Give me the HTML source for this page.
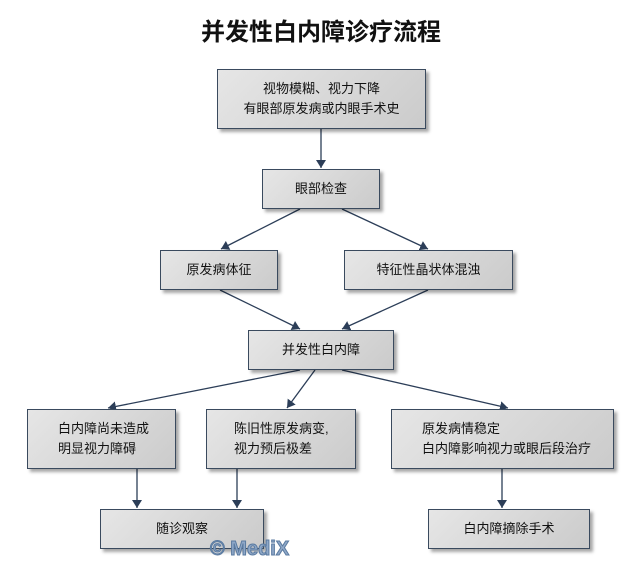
<!DOCTYPE html>
<html><head><meta charset="utf-8"><style>
body{margin:0;width:642px;height:558px;background:#fff;position:relative;overflow:hidden;font-family:"Liberation Sans","Noto Sans CJK SC",sans-serif}
.t{position:absolute;left:0;width:642px;top:12px;text-align:center;font-size:24px;font-weight:bold;color:#111}
.b{position:absolute;box-sizing:border-box;border:1px solid #3a4a5e;background:linear-gradient(135deg,#e6e6e6,#cbcbcb);box-shadow:3px 3px 3px rgba(0,0,0,.35);display:flex;align-items:center;justify-content:center;font-size:13px;color:#111;line-height:20px;text-align:center}
.l{text-align:left;justify-content:flex-start;padding-left:30px}
svg{position:absolute;left:0;top:0}
</style></head><body>
<div class="t">并发性白内障诊疗流程</div>
<svg width="642" height="558"><defs><marker id="a" markerWidth="8" markerHeight="10" refX="8" refY="5" orient="auto" markerUnits="userSpaceOnUse"><path d="M0,0L8,5L0,10z" fill="#2c3e58"/></marker></defs>
<g stroke="#2c3e58" stroke-width="1.3" marker-end="url(#a)">
<line x1="321" y1="129" x2="321" y2="168"/>
<line x1="300" y1="209" x2="221" y2="249"/>
<line x1="342" y1="209" x2="428" y2="249"/>
<line x1="220" y1="290" x2="300" y2="329"/>
<line x1="428" y1="290" x2="342" y2="329"/>
<line x1="300" y1="370" x2="108" y2="408"/>
<line x1="315" y1="370" x2="287" y2="408"/>
<line x1="342" y1="370" x2="508" y2="408"/>
<line x1="137" y1="469" x2="137" y2="508"/>
<line x1="237" y1="469" x2="237" y2="508"/>
<line x1="502" y1="469" x2="502" y2="508"/>
</g></svg>
<div class="b" style="left:217px;top:69px;width:209px;height:60px">视物模糊、视力下降<br>有眼部原发病或内眼手术史</div>
<div class="b" style="left:262px;top:169px;width:118px;height:40px">眼部检查</div>
<div class="b" style="left:160px;top:250px;width:118px;height:40px">原发病体征</div>
<div class="b" style="left:344px;top:250px;width:169px;height:40px">特征性晶状体混浊</div>
<div class="b" style="left:248px;top:330px;width:146px;height:40px">并发性白内障</div>
<div class="b l" style="left:27px;top:409px;width:149px;height:60px">白内障尚未造成<br>明显视力障碍</div>
<div class="b l" style="left:206px;top:409px;width:150px;height:60px;padding-left:27px">陈旧性原发病变,<br>视力预后极差</div>
<div class="b l" style="left:391px;top:409px;width:223px;height:60px">原发病情稳定<br>白内障影响视力或眼后段治疗</div>
<div class="b" style="left:100px;top:509px;width:164px;height:40px">随诊观察</div>
<div class="b" style="left:428px;top:509px;width:162px;height:40px">白内障摘除手术</div>
<div style="position:absolute;left:210px;top:538px;font-size:20px;font-weight:bold;color:#8fa8c8;-webkit-text-stroke:1px #5a7aa0">© MediX</div>
</body></html>
